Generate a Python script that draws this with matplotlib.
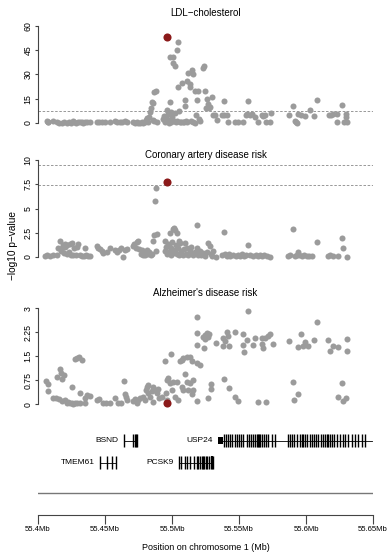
import numpy as np
import matplotlib.pyplot as plt
from matplotlib.patches import Rectangle

plt.rcParams['font.family'] = ['Liberation Sans', 'DejaVu Sans']

# --- association results (position in Mb, -log10 p) ---
ldl_pos = [55.4065, 55.4072, 55.4077, 55.4114, 55.4139, 55.4159, 55.4177, 55.4194, 55.4214, 55.4231,
           55.4246, 55.4259, 55.4269, 55.4284, 55.4301, 55.4313, 55.4326, 55.4338, 55.4351, 55.4368,
           55.4388, 55.4438, 55.4455, 55.4475, 55.4500, 55.4537, 55.4575, 55.4592, 55.4612, 55.4624,
           55.4649, 55.4662, 55.4711, 55.4724, 55.4736, 55.4749, 55.4761, 55.4774, 55.4786, 55.4799,
           55.4803, 55.4811, 55.4818,
           55.4830, 55.4838, 55.4845, 55.4852, 55.4860, 55.4868, 55.4878, 55.4855, 55.4865, 55.4885,
           55.5047, 55.5035, 55.4985, 55.5010, 55.5005, 55.5022, 55.5045, 55.5072, 55.4985, 55.4960,
           55.4935, 55.4940, 55.4945, 55.4950, 55.4955, 55.4965, 55.4970, 55.4975, 55.4980, 55.4990,
           55.4995, 55.5000, 55.5015, 55.5020, 55.5030, 55.5040, 55.5055, 55.5060, 55.5070, 55.5080,
           55.5090, 55.5097, 55.5097, 55.5110, 55.5122, 55.5147, 55.5134, 55.5159, 55.5134, 55.5172,
           55.5183, 55.5194, 55.5231, 55.5240, 55.5246, 55.5259, 55.5270, 55.5284, 55.5296, 55.5250,
           55.5275, 55.5306, 55.5334, 55.5105, 55.5115, 55.5140, 55.5155, 55.5170, 55.5180, 55.5200,
           55.5210,
           55.5320, 55.5390, 55.5370, 55.5385, 55.5410, 55.5420, 55.5470, 55.5495, 55.5530, 55.5550,
           55.5560, 55.5570, 55.5580, 55.5600, 55.5620, 55.5640, 55.5670, 55.5680, 55.5695, 55.5700,
           55.5730, 55.5740, 55.5875, 55.5905, 55.5915, 55.5925, 55.5935, 55.5938, 55.5960, 55.5990,
           55.6030, 55.6060, 55.6085, 55.6170, 55.6185, 55.6200, 55.6230, 55.6235, 55.6266, 55.6280,
           55.6300, 55.6305, 55.6295]
ldl_val = [1.2, 0.4, 0.9, 1.3, 0.8, 0.3, 0.1, 0.4, 0.2, 0.6,
           0.3, 1.0, 0.5, 0.2, 0.7, 0.4, 0.9, 0.3, 0.6, 0.8,
           0.5, 0.6, 0.8, 0.9, 0.7, 0.8, 1.0, 0.6, 0.9, 0.4,
           1.1, 0.5, 0.7, 0.2, 0.4, 0.1, 0.3, 0.6, 0.2, 0.9,
           1.8, 3.0, 0.5,
           4.0, 7.0, 9.1, 13.2, 12.5, 19.4, 19.6, 2.0, 1.2, 0.8,
           50.0, 45.2, 40.6, 40.6, 37.0, 35.0, 22.5, 24.6, 13.2, 8.0,
           2.5, 4.5, 1.0, 0.5, 3.0, 1.5, 5.5, 0.3, 2.0, 6.5,
           0.8, 4.0, 1.2, 6.0, 0.5, 1.5, 7.5, 0.8, 0.6, 0.5,
           0.9, 14.2, 10.5, 26.0, 31.0, 33.0, 24.0, 30.0, 22.0, 19.6,
           14.0, 19.5, 34.0, 35.0, 20.0, 15.0, 12.0, 10.0, 16.0, 9.0,
           9.0, 5.0, 2.0, 1.0, 0.4, 1.2, 0.6, 0.3, 5.0, 2.5,
           1.5,
           5.0, 13.8, 5.0, 5.0, 5.0, 0.8, 0.8, 0.8, 0.8, 5.0,
           5.5, 13.8, 5.0, 5.5, 4.0, 0.8, 5.0, 4.5, 5.0, 0.8,
           0.8, 6.0, 5.0, 10.8, 1.5, 0.5, 0.3, 5.5, 5.0, 4.5,
           8.1, 4.5, 14.4, 5.0, 4.8, 5.5, 5.5, 0.8, 11.0, 0.8,
           5.5, 0.8, 4.0]

cad_pos = [55.4052, 55.4070, 55.4090, 55.4114, 55.4139, 55.4152, 55.4164, 55.4170, 55.4180, 55.4189,
           55.4195, 55.4200, 55.4205, 55.4214, 55.4220, 55.4228, 55.4239, 55.4245, 55.4251, 55.4260,
           55.4270, 55.4280, 55.4289, 55.4301, 55.4310, 55.4325, 55.4340, 55.4351, 55.4360, 55.4375,
           55.4388, 55.4438, 55.4450, 55.4463, 55.4475, 55.4488, 55.4512, 55.4537, 55.4575, 55.4590,
           55.4605, 55.4620, 55.4637, 55.4650, 55.4662, 55.4711, 55.4720, 55.4730, 55.4740, 55.4749,
           55.4755, 55.4765, 55.4774, 55.4780, 55.4790, 55.4800, 55.4811, 55.4820, 55.4830, 55.4840,
           55.4850, 55.4861, 55.4865, 55.4873, 55.4878, 55.4886, 55.4880,
           55.4948, 55.4950, 55.4955, 55.4960, 55.4970, 55.4975, 55.4980, 55.4985, 55.4990, 55.4995,
           55.5000, 55.5005, 55.5010, 55.5015, 55.5020, 55.5025, 55.5030, 55.5035, 55.5040, 55.5045,
           55.5050, 55.5055, 55.5060, 55.5070, 55.5080, 55.5090, 55.5097, 55.5105, 55.5115, 55.5122,
           55.5135, 55.5145, 55.5159, 55.5170, 55.5184, 55.5185, 55.5195, 55.5209, 55.5220, 55.5234,
           55.5245, 55.5260, 55.5271, 55.5284, 55.5290, 55.5300, 55.5308, 55.5328,
           55.5371, 55.5388, 55.5395, 55.5410, 55.5425, 55.5433, 55.5458, 55.5475, 55.5490, 55.5507,
           55.5520, 55.5535, 55.5550, 55.5570, 55.5580, 55.5607, 55.5625, 55.5640, 55.5657, 55.5675,
           55.5690, 55.5706, 55.5731, 55.5868, 55.5880, 55.5905, 55.5915, 55.5930, 55.5938, 55.5950,
           55.5968, 55.5985, 55.6005, 55.6020, 55.6042, 55.6080, 55.6167, 55.6180, 55.6204, 55.6241,
           55.6266, 55.6274, 55.6303]
cad_val = [0.15, 0.2, 0.15, 0.2, 0.2, 0.9, 1.6, 0.6, 0.9, 1.2,
           0.4, 1.0, 1.3, 0.3, 1.2, 0.5, 1.3, 0.2, 1.4, 0.2,
           0.9, 0.2, 1.0, 1.3, 0.2, 0.15, 0.15, 0.9, 0.2, 0.15,
           0.15, 1.1, 0.9, 0.8, 0.6, 0.4, 0.5, 0.9, 0.7, 0.5,
           0.7, 0.9, 0.0, 0.7, 0.8, 1.1, 1.3, 0.9, 1.5, 1.7,
           0.8, 0.3, 0.7, 0.2, 0.4, 0.2, 0.7, 0.3, 0.5, 0.2,
           0.3, 1.7, 2.3, 5.8, 7.1, 2.4, 0.6,
           0.6, 1.7, 1.0, 0.3, 1.3, 0.5, 1.1, 2.5, 0.2, 0.9,
           1.5, 0.4, 2.9, 3.0, 0.7, 2.8, 1.2, 2.5, 0.3, 0.9,
           1.7, 0.2, 1.4, 0.6, 0.2, 0.8, 1.4, 0.3, 0.9, 0.2,
           0.6, 1.0, 0.2, 0.5, 3.3, 0.9, 0.2, 0.6, 0.2, 0.4,
           0.1, 0.5, 1.4, 1.1, 0.3, 0.1, 0.6, 0.0,
           0.2, 2.6, 0.3, 0.1, 0.3, 0.1, 0.2, 0.1, 0.2, 0.1,
           0.3, 0.1, 0.2, 1.2, 0.2, 0.1, 0.2, 0.1, 0.2, 0.1,
           0.2, 0.1, 0.0, 0.1, 0.2, 2.87, 0.1, 0.2, 0.5, 0.2,
           0.1, 0.2, 0.1, 0.1, 0.1, 1.5, 0.1, 0.2, 0.1, 0.1,
           2.0, 0.9, 0.0]

alz_pos = [55.4057, 55.4072, 55.4077, 55.4114, 55.4134, 55.4139, 55.4159, 55.4164, 55.4169, 55.4177,
           55.4177, 55.4194, 55.4201, 55.4214, 55.4226, 55.4239, 55.4251, 55.4264, 55.4276, 55.4289,
           55.4313, 55.4251, 55.4276, 55.4289, 55.4306, 55.4326, 55.4313, 55.4351, 55.4368, 55.4388,
           55.4351, 55.4438, 55.4455, 55.4488, 55.4507, 55.4537, 55.4575, 55.4600, 55.4617, 55.4642,
           55.4649, 55.4654, 55.4662, 55.4711, 55.4724, 55.4736, 55.4749, 55.4761, 55.4786, 55.4799,
           55.4803, 55.4811, 55.4818, 55.4823, 55.4836, 55.4848, 55.4856, 55.4861, 55.4873, 55.4886,
           55.4898, 55.4905, 55.4923, 55.4948, 55.4960, 55.4973, 55.4955, 55.4965, 55.4990, 55.4985,
           55.4998, 55.5010, 55.5022, 55.5035, 55.5047, 55.5060, 55.5072, 55.5085, 55.5109, 55.5134,
           55.5147, 55.5097, 55.5072, 55.5085, 55.5109, 55.5122, 55.5134, 55.5147, 55.5159, 55.5159,
           55.5184, 55.5184, 55.5189, 55.5189, 55.5209, 55.5184, 55.5234, 55.5246, 55.5259, 55.5271,
           55.5279, 55.5246, 55.5239, 55.5271, 55.5291, 55.5291, 55.5328, 55.5383, 55.5396, 55.5408,
           55.5420, 55.5383, 55.5428, 55.5388, 55.5423, 55.5470, 55.5470, 55.5495, 55.5532, 55.5527,
           55.5540, 55.5565, 55.5557, 55.5607, 55.5619, 55.5644, 55.5669, 55.5682, 55.5674, 55.5694,
           55.5699, 55.5719, 55.5731, 55.5751, 55.5873, 55.5905, 55.5913, 55.5938, 55.5938, 55.5963,
           55.5980, 55.5993, 55.6017, 55.6060, 55.6080, 55.6167, 55.6179, 55.6199, 55.6236, 55.6241,
           55.6266, 55.6279, 55.6303, 55.6303, 55.6299]
alz_val = [0.74, 0.63, 0.40, 0.19, 0.19, 0.84, 0.16, 1.10, 0.99, 0.78,
           0.11, 0.92, 0.13, 0.05, 0.08, 0.03, 0.05, 0.01, 0.03, 0.03,
           0.03, 0.53, 1.41, 1.46, 1.49, 1.39, 0.34, 0.19, 0.29, 0.26,
           0.03, 0.14, 0.17, 0.03, 0.05, 0.03, 0.19, 0.03, 0.05, 0.74,
           0.32, 0.22, 0.14, 0.10, 0.15, 0.05, 0.12, 0.19, 0.22, 0.14,
           0.45, 0.55, 0.34, 0.61, 0.24, 0.40, 0.55, 0.08, 0.45, 0.34,
           0.47, 0.19, 0.24, 1.36, 0.76, 0.81, 0.34, 0.14, 1.56, 0.66,
           0.45, 0.71, 0.24, 0.71, 0.14, 1.35, 1.38, 1.44, 1.49, 1.49,
           1.36, 0.94, 0.53, 0.45, 0.71, 0.45, 0.66, 0.32, 0.76, 0.45,
           2.74, 2.22, 1.85, 1.28, 1.22, 0.11, 2.11, 2.16, 2.22, 2.11,
           2.19, 2.03, 1.75, 0.19, 0.63, 0.47, 1.93, 2.06, 1.99, 2.27,
           2.12, 1.82, 1.82, 0.78, 0.50, 2.27, 0.22, 0.10, 2.20, 1.85,
           1.63, 2.92, 2.01, 1.85, 2.08, 0.08, 2.08, 1.75, 1.88, 2.08,
           0.08, 2.12, 2.19, 1.89, 1.98, 0.71, 0.14, 0.32, 1.78, 2.20,
           1.82, 1.96, 1.82, 2.01, 2.58, 2.01, 1.68, 1.83, 1.80, 0.22,
           0.66, 0.10, 2.03, 1.67, 0.19]

lead_pos = 55.4960
lead_val = [53.4, 7.77, 0.03]

panel_titles = ["LDL\u2212cholesterol", "Coronary artery disease risk", "Alzheimer's disease risk"]
panel_yticks = [[0, 15, 30, 45, 60], [0, 2.5, 5, 7.5, 10], [0, 0.75, 1.5, 2.25, 3]]
panel_ylabels = [["0", "15", "30", "45", "60"], ["0", "2.5", "5", "7.5", "10"],
                 ["0", "0.75", "1.5", "2.25", "3"]]
panel_thresholds = [[7.3], [7.45, 9.5], []]

# --- genes ---
gene_names = ["TMEM61", "BSND", "PCSK9", "USP24"]
gene_rows = [2, 1, 2, 1]
gene_starts = [55.4463, 55.4645, 55.5054, 55.5346]
gene_ends = [55.4580, 55.4741, 55.5308, 55.6495]
tmem61_exons = [55.4463, 55.4517, 55.4550, 55.4580]
bsnd_exons = [55.4645, 55.4709, 55.4722, 55.4732, 55.4741]
pcsk9_exons = [55.5054, 55.5067, 55.5097, 55.5114, 55.5134, 55.5166, 55.5184, 55.5196, 55.5209,
               55.5221, 55.5229, 55.5239, 55.5254, 55.5263, 55.5276, 55.5290, 55.5300, 55.5308]
usp24_exons = [55.5391, 55.5403, 55.5420, 55.5433, 55.5450, 55.5470, 55.5483, 55.5500, 55.5513,
               55.5532, 55.5557, 55.5577, 55.5590, 55.5607, 55.5619, 55.5632, 55.5644, 55.5650,
               55.5657, 55.5669, 55.5687, 55.5701, 55.5719, 55.5744, 55.5769, 55.5868, 55.5881,
               55.5893, 55.5910, 55.5930, 55.5955, 55.5968, 55.5980, 55.5993, 55.6010, 55.6030,
               55.6042, 55.6060, 55.6075, 55.6092, 55.6110, 55.6129, 55.6142, 55.6154, 55.6167,
               55.6179, 55.6192, 55.6209, 55.6229, 55.6254, 55.6274, 55.6291, 55.6316, 55.6341,
               55.6366, 55.6391, 55.6416, 55.6440]
usp24_utr = (55.5346, 55.5383)
x_ticks = [55.4, 55.45, 55.5, 55.55, 55.6, 55.65]

W, H = 388, 553
fig = plt.figure(figsize=(W / 100, H / 100), dpi=100)


def px_axes(left, top, width, height):
    """axes placed in pixel units measured from the top-left corner"""
    return fig.add_axes([left / W, 1 - (top + height) / H, width / W, height / H])


grey = '#9b9b9b'
lead_col = '#8b1a1a'
axis_col = '#444444'

# (top px, height px, ylim, title y px)
panels = [(22, 105, (-2.47, 62.47), 13),
          (156, 105, (-0.41, 10.41), 155),
          (304, 104, (-0.116, 3.134), 293)]
data = [(ldl_pos, ldl_val), (cad_pos, cad_val), (alz_pos, alz_val)]

for i, (top, height, ylim, title_y) in enumerate(panels):
    ax = px_axes(38, top, 335, height)
    pos, val = data[i]
    ax.scatter(pos, val, s=19, color=grey, linewidths=0, zorder=2)
    ax.scatter([lead_pos], [lead_val[i]], s=34, color=lead_col, linewidths=0, zorder=3)
    for t in panel_thresholds[i]:
        ax.axhline(t, color='#888888', lw=0.6, ls=(0, (3, 2)), zorder=1)
    ax.set_xlim(55.4, 55.65)
    ax.set_ylim(*ylim)
    ax.set_xticks([])
    ax.set_yticks(panel_yticks[i])
    ax.set_yticklabels(panel_ylabels[i], fontsize=6.3, rotation=90, va='center')
    ax.tick_params(axis='y', length=2.5, width=0.8, color=axis_col, pad=1.5)
    for s in ['top', 'right', 'bottom']:
        ax.spines[s].set_visible(False)
    ax.spines['left'].set_bounds(panel_yticks[i][0], panel_yticks[i][-1])
    ax.spines['left'].set_color(axis_col)
    ax.spines['left'].set_linewidth(0.8)
    ax.patch.set_alpha(0)
    fig.text(205.5 / W, 1 - title_y / H, panel_titles[i], ha='center', va='center', fontsize=7)

fig.text(13 / W, 1 - 246 / H, "\u2212log10 p\u2212value", rotation=90, ha='center', va='center',
         fontsize=7.3)

# gene track + position axis, y measured in pixels from top of this axes
gx = px_axes(38, 425, 335, 90)
gx.set_xlim(55.4, 55.65)
gx.set_ylim(90, 0)
row_y = {1: 15.5, 2: 37.5}
half = 6.5
exon_sets = [tmem61_exons, bsnd_exons, pcsk9_exons, usp24_exons]
for name, row, st, en, ex in zip(gene_names, gene_rows, gene_starts, gene_ends, exon_sets):
    yc = row_y[row]
    gx.plot([st, en], [yc, yc], color='black', lw=0.6)
    gx.vlines(ex, yc - half, yc + half, color='black', lw=1.0)
    gx.annotate(name, (st, yc), xytext=(-4, 0), textcoords='offset points',
                ha='right', va='center', fontsize=6)
gx.add_patch(Rectangle((usp24_utr[0], row_y[1] - 3.2), usp24_utr[1] - usp24_utr[0], 6.4,
                       color='black', lw=0))
gx.add_patch(Rectangle((pcsk9_exons[-3], row_y[2] - half), pcsk9_exons[-1] - pcsk9_exons[-3],
                       2 * half, color='black', lw=0))
gx.axhline(68, color='#777777', lw=1.0)
gx.set_yticks([])
for s in ['top', 'right', 'left']:
    gx.spines[s].set_visible(False)
gx.spines['bottom'].set_color(axis_col)
gx.spines['bottom'].set_linewidth(0.8)
gx.set_xticks(x_ticks)
gx.set_xticklabels([f"{t:g}Mb" for t in x_ticks], fontsize=5.6)
gx.tick_params(axis='x', length=6.5, width=0.8, color=axis_col, pad=1.5)
gx.patch.set_alpha(0)
fig.text(205.5 / W, 1 - 548 / H, "Position on chromosome 1 (Mb)", ha='center', va='center',
         fontsize=6.5)

fig.savefig('out.png', dpi=100)
